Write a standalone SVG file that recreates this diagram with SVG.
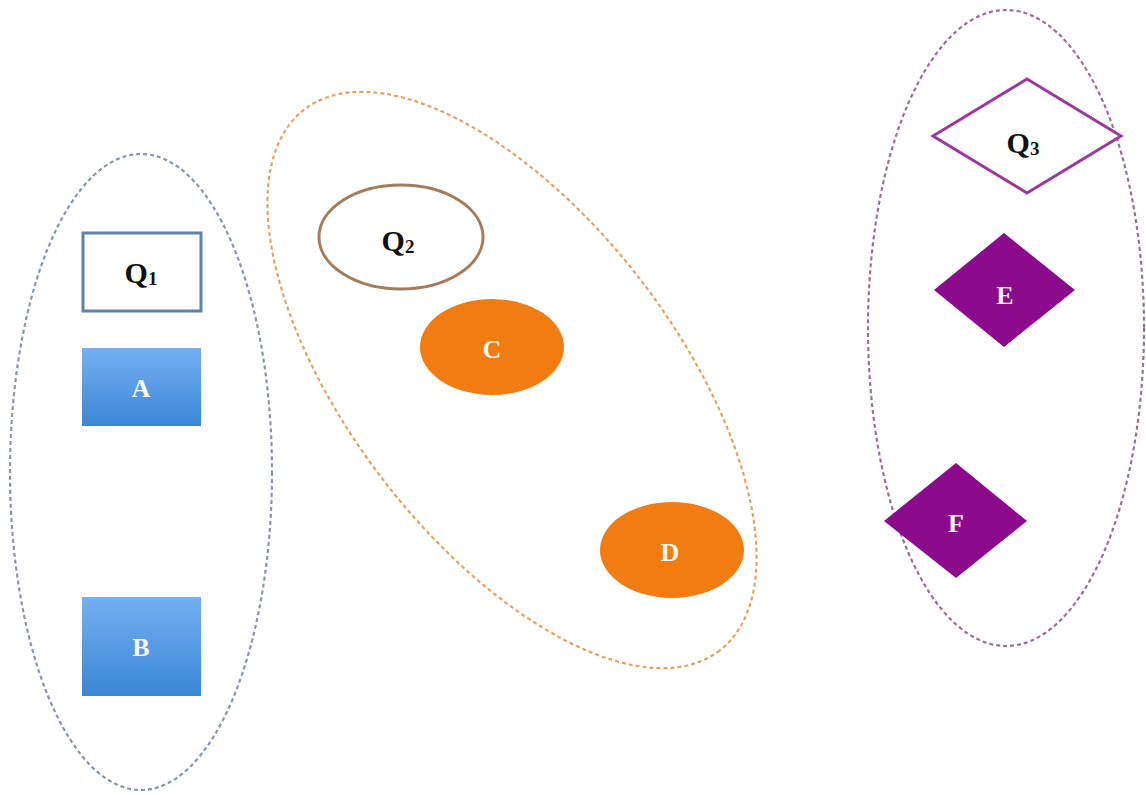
<svg xmlns="http://www.w3.org/2000/svg" width="1146" height="795" viewBox="0 0 1146 795">
<defs>
<linearGradient id="blueGrad" x1="0" y1="0" x2="0" y2="1">
<stop offset="0" stop-color="#74b0f2"/>
<stop offset="1" stop-color="#3a86d6"/>
</linearGradient>
<style>
.grp{fill:none;stroke-width:2.2;stroke-dasharray:4 3}
.lbl{font-family:"Liberation Serif",serif;font-weight:bold;text-anchor:middle;dominant-baseline:central}
.q{font-size:30px;fill:#111}
.w{font-size:26px;fill:#fff6f0}
.sub{font-size:19px}
</style>
</defs>
<rect width="1146" height="795" fill="#ffffff"/>
<g id="groups">
<ellipse id="group1" class="grp" cx="141" cy="472" rx="131" ry="318" stroke="#8496b0"/>
<ellipse id="group2" class="grp" cx="512" cy="380" rx="341" ry="163" transform="rotate(52.5 512 380)" stroke="#e0a468"/>
<ellipse id="group3" class="grp" cx="1006" cy="328" rx="138" ry="318" stroke="#9c6e9c"/>
</g>
<g id="connectors"></g>
<g id="Q1">
<rect x="83" y="233" width="118" height="78" fill="#ffffff" stroke="#5f83a8" stroke-width="3"/>
<text class="lbl q" x="141" y="272">Q<tspan class="sub" dy="6">1</tspan></text>
</g>
<g id="A">
<rect x="82" y="348" width="119" height="78" fill="url(#blueGrad)"/>
<text class="lbl w" x="141" y="388">A</text>
</g>
<g id="B">
<rect x="82" y="597" width="119" height="99" fill="url(#blueGrad)"/>
<text class="lbl w" x="141" y="647">B</text>
</g>
<g id="Q2">
<ellipse cx="401" cy="237" rx="82" ry="52" fill="#ffffff" stroke="#a47c5c" stroke-width="3"/>
<text class="lbl q" x="398" y="240">Q<tspan class="sub" dy="6">2</tspan></text>
</g>
<g id="C">
<ellipse cx="492" cy="347" rx="72" ry="48" fill="#f07c12"/>
<text class="lbl w" x="492" y="349">C</text>
</g>
<g id="D">
<ellipse cx="672" cy="550" rx="72" ry="48" fill="#f07c12"/>
<text class="lbl w" x="670" y="552">D</text>
</g>
<g id="Q3">
<polygon points="933,136 1027,79 1121,136 1027,193" fill="#ffffff" stroke="#9a3a9a" stroke-width="3"/>
<text class="lbl q" x="1023" y="142">Q<tspan class="sub" dy="6">3</tspan></text>
</g>
<g id="E">
<polygon points="934,290 1004,233 1075,290 1004,347" fill="#8c0a8c"/>
<text class="lbl w" x="1005" y="295">E</text>
</g>
<g id="F">
<polygon points="884,521 956,463 1027,521 956,578" fill="#8c0a8c"/>
<text class="lbl w" x="956" y="523">F</text>
</g>
</svg>
